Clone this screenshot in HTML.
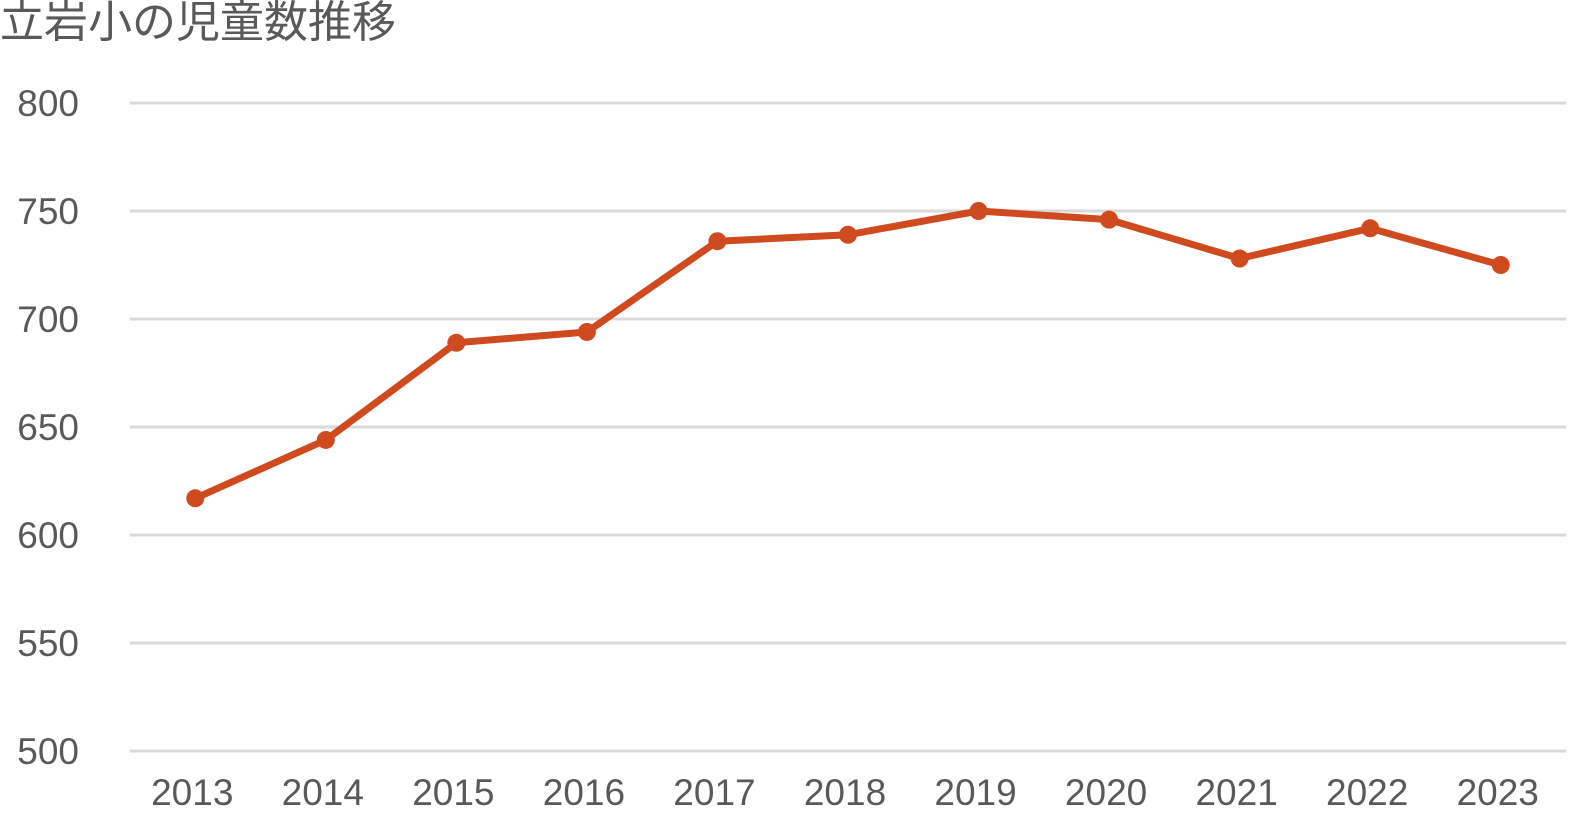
<!DOCTYPE html>
<html><head><meta charset="utf-8">
<style>
html,body{margin:0;padding:0;background:#fff;}
body{width:1592px;height:828px;overflow:hidden;font-family:"Liberation Sans","Noto Sans CJK JP",sans-serif;}
</style></head>
<body>
<svg id="chart" width="1592" height="828" xmlns="http://www.w3.org/2000/svg">
<text x="0" y="37" font-size="44" fill="#595959" font-family="Liberation Sans, Noto Sans CJK JP, sans-serif">立岩小の児童数推移</text>
<g id="grid"></g><g id="yt"></g><g id="xt"></g><g id="series"></g>
</svg>
<script>
const categories=["2013","2014","2015","2016","2017","2018","2019","2020","2021","2022","2023"];
const values=[617,644,689,694,736,739,750,746,728,742,725];
const yTicks=[500,550,600,650,700,750,800];
const NS="http://www.w3.org/2000/svg";
const x0=130,x1=1566,yTop=103,yBot=751,yMin=500,yMax=800;
const band=(x1-x0)/categories.length;
const xs=i=>x0+band*(i+0.5);
const ys=v=>yBot-(v-yMin)/(yMax-yMin)*(yBot-yTop);
function mk(t,a,p){const e=document.createElementNS(NS,t);for(const k in a)e.setAttribute(k,a[k]);p.appendChild(e);return e;}
const grid=document.getElementById('grid'),yt=document.getElementById('yt'),xt=document.getElementById('xt'),sg=document.getElementById('series');
yTicks.forEach(v=>{
  const l=mk('line',{x1:x0,x2:x1,y1:ys(v),y2:ys(v),stroke:'#d9d9d9','stroke-width':3},grid);
  
  
  const t=mk('text',{x:79,y:ys(v)+13,'text-anchor':'end','font-size':37,fill:'#595959'},yt);
  t.textContent=v;
  
  
});
categories.forEach((c,i)=>{
  const t=mk('text',{x:xs(i)-3,y:805,'text-anchor':'middle','font-size':37,fill:'#595959'},xt);
  t.textContent=c;
  
  
});
const pts=values.map((v,i)=>xs(i)+','+ys(v)).join(' ');
const pl=mk('polyline',{points:pts,fill:'none',stroke:'#cf4a1f','stroke-width':7,'stroke-linejoin':'round'},sg);


values.forEach((v,i)=>{
  const c=mk('circle',{cx:xs(i),cy:ys(v),r:9,fill:'#cf4a1f'},sg);
  
  
});
</script>
</body></html>
